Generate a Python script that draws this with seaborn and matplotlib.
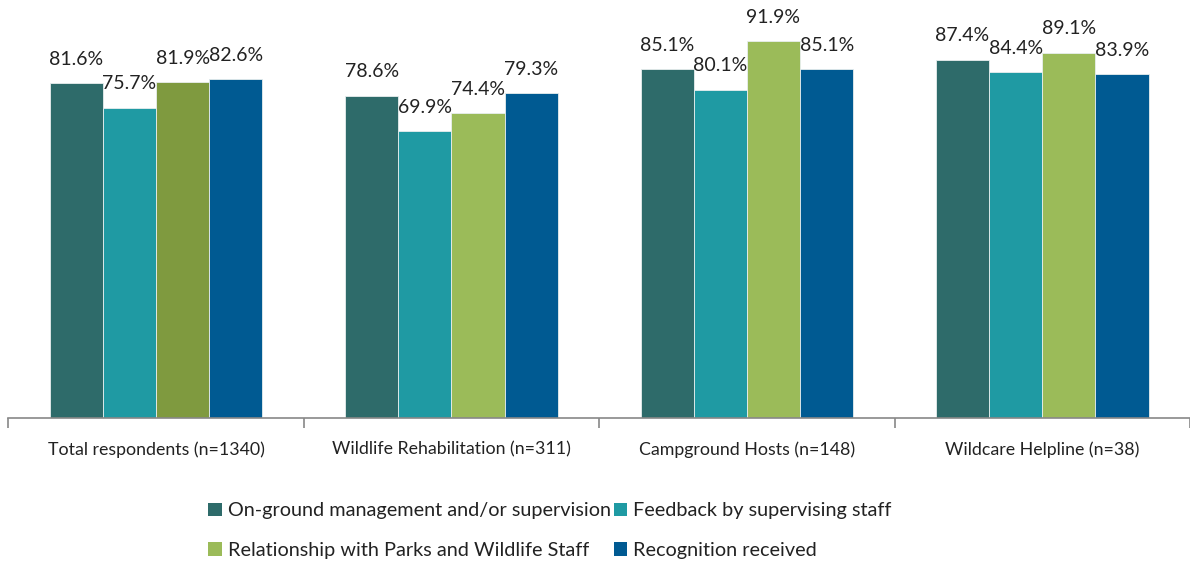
"""Grouped bar chart: volunteer satisfaction by program."""

import matplotlib.pyplot as plt
import numpy as np
import pandas as pd
import seaborn as sns
from matplotlib.patches import Patch

groups = [
    "Total respondents (n=1340)",
    "Wildlife Rehabilitation (n=311)",
    "Campground Hosts (n=148)",
    "Wildcare Helpline (n=38)",
]
measures = [
    "On-ground management and/or supervision",
    "Feedback by supervising staff",
    "Relationship with Parks and Wildlife Staff",
    "Recognition received",
]
on_ground = [81.6, 78.6, 85.1, 87.4]
feedback = [75.7, 69.9, 80.1, 84.4]
relationship = [81.9, 74.4, 91.9, 89.1]
recognition = [82.6, 79.3, 85.1, 83.9]

colors = ["#2E6B6A", "#1F9AA3", "#9BBB59", "#005A92"]
total_green = "#7F9A3F"

df = pd.DataFrame({
    "group": groups * 4,
    "measure": np.repeat(measures, len(groups)),
    "value": on_ground + feedback + relationship + recognition,
})

sns.set_theme(style="white")
plt.rcParams["font.family"] = ["Lato", "DejaVu Sans"]

fig = plt.figure(figsize=(11.9, 5.67), dpi=100)
ax = fig.add_axes([0.007, 0.263, 0.993, 0.723])

sns.barplot(
    data=df, x="group", y="value", hue="measure", order=groups, hue_order=measures,
    palette=colors, saturation=1, width=0.72, gap=0, edgecolor="#E8EEEE",
    linewidth=0.6, legend=False, ax=ax,
)

# the "Total" relationship bar is drawn in a darker olive in the original
ax.containers[2][0].set_facecolor(total_green)

for cont in ax.containers:
    ax.bar_label(cont, fmt="%.1f%%", padding=11, fontsize=14, color="#222222")

ax.set_ylim(0, 100)
ax.set_xlim(-0.5, len(groups) - 0.5)
ax.set_yticks([])
ax.set_xlabel("")
ax.set_ylabel("")
for side in ["top", "right", "left"]:
    ax.spines[side].set_visible(False)
ax.spines["bottom"].set_color("#888888")
ax.spines["bottom"].set_linewidth(1.2)

ax.tick_params(axis="x", which="major", length=0, pad=17, labelsize=12.8, labelcolor="#222222")
ax.set_xticks(np.arange(-0.5, len(groups)), minor=True)
ax.tick_params(axis="x", which="minor", length=7, width=1.2, color="#888888", bottom=True)

# legend reads row by row: reorder for matplotlib's column-wise fill
order = [0, 2, 1, 3]
handles = [Patch(facecolor=colors[i], edgecolor="none") for i in order]
fig.legend(
    handles, [measures[i] for i in order], loc="lower center",
    bbox_to_anchor=(0.462, -0.018), ncol=2, frameon=False, fontsize=14.3,
    handlelength=0.7, handleheight=0.7, handletextpad=0.3, columnspacing=0.15,
    labelspacing=1.15, labelcolor="#222222",
)

fig.savefig("out.png", dpi=100)
